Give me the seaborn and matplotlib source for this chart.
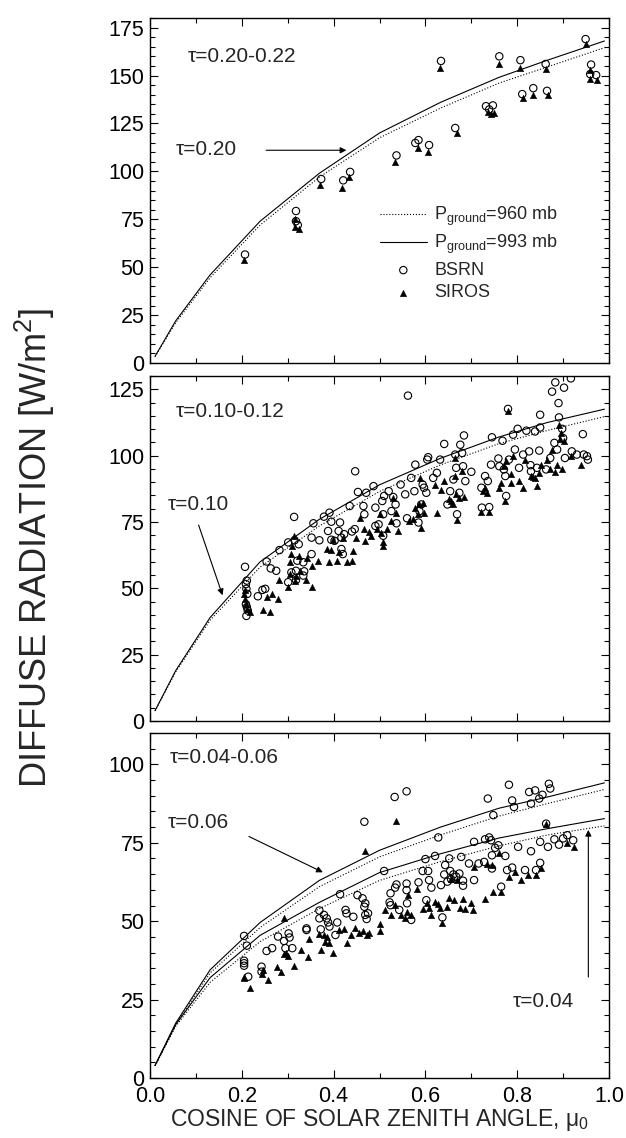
import numpy as np
import pandas as pd
import matplotlib
matplotlib.use("Agg")
import matplotlib.pyplot as plt
import seaborn as sns

# ---------------- data ----------------
mu_model = [0.011, 0.056, 0.131, 0.240, 0.369, 0.500, 0.633, 0.760, 0.866, 0.990]

# tau = 0.20 (top panel)
top_993 = [3.5, 22.0, 46.0, 74.0, 99.0, 120.0, 136.0, 149.0, 158.0, 168.0]
top_960 = [3.3, 21.0, 44.5, 72.0, 97.0, 117.5, 133.0, 146.0, 154.5, 164.5]
# tau = 0.10 (middle panel)
mid_993 = [3.9, 19.0, 39.0, 60.0, 76.0, 89.0, 99.0, 107.0, 112.5, 117.5]
mid_960 = [3.8, 18.5, 38.0, 58.0, 73.5, 86.5, 96.5, 104.5, 109.5, 114.7]
# tau = 0.06 and 0.04 (bottom panel)
bot06_993 = [4.0, 17.5, 34.5, 49.6, 63.0, 72.6, 80.0, 86.0, 89.6, 94.1]
bot06_960 = [3.9, 17.0, 33.5, 48.0, 61.0, 70.5, 77.5, 83.5, 87.5, 92.0]
bot04_993 = [4.0, 17.0, 32.0, 45.5, 56.0, 65.5, 71.5, 76.5, 79.5, 82.7]
bot04_960 = [3.9, 16.5, 30.5, 43.5, 54.0, 63.0, 69.0, 74.0, 77.5, 80.4]

# top panel observations
top_bsrn_x = [0.207, 0.318, 0.318, 0.322, 0.373, 0.421, 0.436, 0.537, 0.578, 0.585, 0.608, 0.634, 0.665,
              0.732, 0.739, 0.747, 0.761, 0.807, 0.811, 0.835, 0.862, 0.865, 0.949, 0.961, 0.959, 0.972]
top_bsrn_y = [56.6, 79.3, 74.0, 72.0, 96.0, 95.3, 99.7, 108.3, 114.8, 116.3, 113.7, 157.6, 122.6,
              134.0, 132.3, 134.4, 160.0, 158.0, 140.3, 143.4, 156.0, 142.0, 169.0, 155.7, 150.7, 150.2]
top_siros_x = [0.205, 0.316, 0.315, 0.324, 0.370, 0.419, 0.434, 0.534, 0.583, 0.606, 0.632, 0.669, 0.736,
               0.743, 0.750, 0.760, 0.806, 0.813, 0.835, 0.862, 0.867, 0.949, 0.959, 0.959, 0.973]
top_siros_y = [54.0, 75.0, 71.0, 70.0, 93.0, 91.5, 97.0, 104.7, 112.0, 110.0, 154.0, 120.0, 131.0,
               130.0, 130.5, 156.0, 154.0, 138.4, 140.0, 153.3, 139.8, 166.3, 153.0, 148.0, 147.6]

# middle panel observations
mid_bsrn_x = [0.207, 0.211, 0.209, 0.210, 0.212, 0.209, 0.211, 0.210, 0.213, 0.235,
              0.245, 0.251, 0.254, 0.263, 0.275, 0.282, 0.301, 0.314, 0.315, 0.318,
              0.321, 0.324, 0.301, 0.308, 0.318, 0.334, 0.336, 0.334, 0.352, 0.352,
              0.356, 0.369, 0.379, 0.388, 0.391, 0.395, 0.395, 0.402, 0.411, 0.414,
              0.417, 0.417, 0.420, 0.423, 0.435, 0.440, 0.446, 0.447, 0.453, 0.465,
              0.467, 0.471, 0.487, 0.491, 0.491, 0.498, 0.506, 0.508, 0.508, 0.510,
              0.520, 0.526, 0.530, 0.535, 0.537, 0.546, 0.556, 0.562, 0.560, 0.569,
              0.576, 0.578, 0.585, 0.587, 0.591, 0.594, 0.597, 0.602, 0.606, 0.604,
              0.617, 0.625, 0.632, 0.641, 0.648, 0.654, 0.661, 0.665, 0.667, 0.669,
              0.674, 0.676, 0.680, 0.684, 0.682, 0.687, 0.700, 0.722, 0.723, 0.730,
              0.736, 0.739, 0.743, 0.745, 0.759, 0.761, 0.768, 0.771, 0.774, 0.776,
              0.780, 0.782, 0.791, 0.795, 0.801, 0.804, 0.813, 0.820, 0.826, 0.829,
              0.830, 0.839, 0.843, 0.848, 0.850, 0.850, 0.863, 0.872, 0.876, 0.881,
              0.883, 0.887, 0.890, 0.891, 0.898, 0.902, 0.900, 0.904, 0.917, 0.919,
              0.930, 0.943, 0.945, 0.952, 0.954]
mid_bsrn_y = [58.1, 52.9, 51.6, 49.8, 47.9, 44.0, 42.9, 39.6, 41.6, 47.0,
              49.4, 49.8, 60.1, 57.5, 56.6, 64.4, 67.3, 76.9, 68.1, 56.6,
              60.4, 66.6, 52.3, 56.0, 53.1, 59.8, 56.4, 54.8, 62.9, 69.1,
              74.5, 68.1, 77.0, 71.6, 78.5, 75.1, 68.3, 67.9, 71.6, 74.8,
              69.1, 64.8, 62.9, 70.4, 81.0, 71.4, 72.3, 94.1, 86.3, 81.0,
              77.9, 86.0, 88.5, 80.4, 73.5, 74.1, 82.9, 77.9, 69.8, 84.8,
              86.6, 79.1, 84.4, 81.6, 74.5, 89.1, 85.4, 122.6, 76.4, 91.6,
              86.6, 96.6, 74.8, 79.1, 81.6, 89.1, 87.9, 86.0, 99.4, 98.5,
              91.6, 93.5, 98.5, 104.4, 81.6, 86.6, 91.0, 100.4, 95.4, 77.9,
              86.0, 104.1, 101.0, 107.6, 96.0, 90.4, 93.9, 87.9, 80.4, 92.3,
              90.4, 80.6, 96.6, 106.9, 98.9, 96.0, 105.6, 94.8, 92.3, 84.8,
              117.6, 98.5, 107.9, 102.3, 110.1, 95.4, 100.4, 109.4, 101.6, 96.4,
              94.1, 109.1, 95.4, 101.9, 110.6, 115.4, 94.8, 99.1, 124.1, 104.8,
              127.6, 102.3, 119.8, 114.4, 110.1, 125.6, 106.6, 99.1, 129.1, 101.6,
              100.4, 108.1, 100.4, 99.8, 98.5]
mid_siros_x = [0.207, 0.205, 0.208, 0.210, 0.212, 0.217, 0.247, 0.262, 0.254, 0.266,
               0.279, 0.280, 0.301, 0.304, 0.306, 0.308, 0.310, 0.313, 0.315, 0.318,
               0.324, 0.327, 0.339, 0.343, 0.352, 0.354, 0.365, 0.385, 0.391, 0.395,
               0.399, 0.408, 0.412, 0.421, 0.430, 0.439, 0.442, 0.449, 0.458, 0.467,
               0.469, 0.478, 0.482, 0.495, 0.500, 0.504, 0.507, 0.507, 0.517, 0.526,
               0.530, 0.536, 0.540, 0.565, 0.574, 0.578, 0.584, 0.585, 0.588, 0.591,
               0.595, 0.597, 0.626, 0.620, 0.634, 0.641, 0.652, 0.656, 0.661, 0.664,
               0.665, 0.667, 0.669, 0.674, 0.680, 0.684, 0.722, 0.726, 0.730, 0.734,
               0.739, 0.761, 0.765, 0.771, 0.774, 0.776, 0.780, 0.786, 0.787, 0.791,
               0.804, 0.813, 0.817, 0.829, 0.835, 0.839, 0.843, 0.848, 0.852, 0.865,
               0.872, 0.876, 0.883, 0.887, 0.890, 0.893, 0.896, 0.898, 0.902, 0.917, 0.939]
mid_siros_y = [49.4, 47.9, 46.0, 44.1, 42.3, 41.0, 41.9, 41.0, 46.9, 47.9,
               46.0, 53.1, 50.4, 59.8, 55.4, 62.9, 66.0, 69.8, 52.9, 54.8,
               62.3, 56.6, 53.1, 61.6, 50.6, 58.5, 60.4, 64.8, 60.1, 64.4,
               68.1, 60.4, 63.5, 69.1, 60.1, 60.4, 63.9, 69.1, 76.6, 72.3,
               67.9, 71.3, 69.8, 72.3, 77.9, 71.0, 67.3, 66.0, 72.3, 75.4,
               84.1, 78.5, 71.6, 75.4, 76.0, 80.4, 77.9, 81.6, 91.6, 72.9,
               82.3, 78.5, 78.5, 89.1, 86.9, 90.6, 83.5, 82.9, 81.6, 99.1,
               92.3, 85.4, 75.6, 84.1, 94.1, 84.4, 78.9, 86.6, 87.9, 86.0,
               78.9, 87.9, 89.8, 96.0, 82.9, 97.9, 116.9, 89.8, 92.9, 99.8,
               90.6, 87.9, 98.5, 92.3, 91.9, 91.6, 88.5, 93.5, 96.6, 98.5,
               94.8, 102.3, 93.9, 96.6, 111.6, 106.4, 108.5, 94.8, 105.4, 99.8, 96.6]

# bottom panel observations
bot_bsrn_x = [0.205, 0.211, 0.205, 0.205, 0.205, 0.214, 0.243, 0.243, 0.254, 0.266,
              0.279, 0.292, 0.295, 0.302, 0.304, 0.310, 0.341, 0.341, 0.369, 0.369,
              0.372, 0.379, 0.385, 0.388, 0.391, 0.404, 0.408, 0.414, 0.426, 0.428,
              0.443, 0.452, 0.463, 0.467, 0.469, 0.469, 0.472, 0.467, 0.475, 0.510,
              0.522, 0.524, 0.524, 0.533, 0.534, 0.537, 0.543, 0.559, 0.559, 0.559,
              0.560, 0.569, 0.585, 0.594, 0.600, 0.602, 0.606, 0.608, 0.613, 0.621,
              0.628, 0.634, 0.637, 0.641, 0.643, 0.648, 0.652, 0.654, 0.656, 0.661,
              0.667, 0.674, 0.678, 0.682, 0.682, 0.695, 0.706, 0.706, 0.716, 0.728,
              0.730, 0.736, 0.739, 0.743, 0.745, 0.745, 0.748, 0.752, 0.759, 0.765,
              0.774, 0.778, 0.782, 0.789, 0.789, 0.793, 0.802, 0.817, 0.826, 0.830,
              0.830, 0.839, 0.841, 0.848, 0.850, 0.850, 0.855, 0.863, 0.867, 0.869,
              0.872, 0.881, 0.891, 0.900, 0.909, 0.922]
bot_bsrn_y = [45.3, 42.2, 37.4, 36.6, 35.8, 32.3, 35.5, 33.9, 40.5, 41.4,
              45.1, 43.7, 41.4, 46.1, 44.8, 41.4, 47.7, 47.2, 53.4, 50.9,
              47.4, 52.0, 50.9, 49.6, 48.3, 45.6, 49.6, 58.6, 53.6, 52.5,
              51.4, 58.3, 57.3, 54.6, 55.7, 52.0, 50.7, 81.7, 52.5, 66.0,
              56.0, 55.1, 58.9, 89.6, 60.7, 61.7, 53.6, 91.4, 62.0, 59.9,
              55.7, 50.4, 62.4, 66.0, 69.8, 56.7, 66.0, 63.1, 60.7, 70.8,
              76.7, 61.5, 51.2, 64.9, 67.9, 62.6, 70.0, 66.0, 63.4, 64.9,
              64.2, 65.2, 70.5, 62.9, 61.3, 68.4, 75.3, 63.1, 68.4, 68.9,
              76.1, 89.1, 76.7, 75.8, 71.0, 66.8, 83.8, 73.4, 74.2, 61.0,
              70.8, 66.3, 93.5, 67.1, 88.5, 86.4, 73.7, 66.3, 91.2, 87.5,
              72.3, 91.7, 66.3, 89.1, 75.3, 68.6, 90.3, 81.1, 73.7, 93.8,
              92.3, 76.1, 74.4, 76.4, 77.4, 75.8]
bot_siros_x = [0.205, 0.204, 0.218, 0.243, 0.247, 0.258, 0.277, 0.285, 0.292, 0.292,
               0.296, 0.301, 0.313, 0.330, 0.345, 0.347, 0.369, 0.372, 0.378, 0.382,
               0.386, 0.391, 0.399, 0.411, 0.423, 0.430, 0.437, 0.447, 0.456, 0.465,
               0.469, 0.472, 0.478, 0.501, 0.501, 0.513, 0.526, 0.533, 0.537, 0.547,
               0.556, 0.560, 0.562, 0.569, 0.582, 0.595, 0.604, 0.608, 0.613, 0.621,
               0.628, 0.632, 0.637, 0.646, 0.652, 0.656, 0.663, 0.669, 0.675, 0.681,
               0.687, 0.700, 0.704, 0.706, 0.730, 0.735, 0.745, 0.748, 0.761, 0.765,
               0.782, 0.795, 0.809, 0.823, 0.841, 0.852, 0.863, 0.909, 0.924]
bot_siros_y = [32.1, 31.8, 28.6, 33.1, 34.5, 31.3, 35.5, 33.7, 51.1, 39.4,
               39.8, 39.0, 35.8, 40.8, 38.5, 44.3, 45.8, 40.8, 45.6, 43.5,
               44.8, 42.9, 39.8, 47.2, 47.4, 42.9, 45.6, 47.9, 46.1, 46.9,
               72.3, 45.6, 46.1, 49.0, 46.9, 53.6, 52.0, 55.1, 82.0, 52.0,
               50.9, 52.8, 58.3, 52.0, 60.4, 53.9, 55.7, 54.1, 52.0, 56.2,
               55.4, 54.1, 49.3, 54.6, 57.3, 63.4, 56.7, 63.1, 54.3, 57.1,
               53.9, 55.7, 53.6, 67.3, 57.1, 68.1, 67.9, 59.2, 71.6, 59.2,
               64.2, 65.7, 63.1, 64.7, 64.7, 66.8, 81.1, 74.8, 73.7]

x_ticks = [0.0, 0.2, 0.4, 0.6, 0.8, 1.0]
x_ticklabels = ["0.0", "0.2", "0.4", "0.6", "0.8", "1.0"]

# ---------------- style ----------------
sns.set_theme(style="ticks")
plt.rcParams["font.family"] = ["Liberation Sans", "DejaVu Sans"]
plt.rcParams["mathtext.fontset"] = "custom"
plt.rcParams["mathtext.rm"] = "Liberation Sans"
plt.rcParams["mathtext.it"] = "Liberation Sans:italic"
plt.rcParams["mathtext.bf"] = "Liberation Sans:bold"
plt.rcParams["axes.linewidth"] = 1.0
plt.rcParams["axes.edgecolor"] = "black"

fig = plt.figure(figsize=(6.26, 11.38), dpi=100)
L, W, H = 150 / 626, 459 / 626, 345 / 1138
ax_top = fig.add_axes([L, 1 - 363 / 1138, W, H])
ax_mid = fig.add_axes([L, 1 - 721 / 1138, W, H])
ax_bot = fig.add_axes([L, 1 - 1078 / 1138, W, H])

LW = 0.8


def draw_curve(ax, y, dotted, label=None):
    df = pd.DataFrame({"mu": mu_model, "F": y})
    sns.lineplot(data=df, x="mu", y="F", ax=ax, color="black", lw=LW,
                 linestyle=":" if dotted else "-", estimator=None, sort=False,
                 label=label)


def draw_obs(ax, bx, by, sx, sy, label=True):
    dfb = pd.DataFrame({"mu": bx, "F": by})
    dfs = pd.DataFrame({"mu": sx, "F": sy})
    sns.scatterplot(data=dfb, x="mu", y="F", ax=ax, marker="o", s=28, color="black",
                    linewidth=0.8, label="BSRN" if label else None, zorder=3)
    ax.collections[-1].set_facecolor("none")
    ax.collections[-1].set_edgecolor("black")
    sns.scatterplot(data=dfs, x="mu", y="F", ax=ax, marker="^", s=22, color="black",
                    linewidth=0.3, edgecolor="black",
                    label="SIROS" if label else None, zorder=3)


# top
draw_curve(ax_top, top_960, True, r"P$_{\mathrm{ground}}$=960 mb")
draw_curve(ax_top, top_993, False, r"P$_{\mathrm{ground}}$=993 mb")
draw_obs(ax_top, top_bsrn_x, top_bsrn_y, top_siros_x, top_siros_y, label=True)
# middle
draw_curve(ax_mid, mid_960, True)
draw_curve(ax_mid, mid_993, False)
draw_obs(ax_mid, mid_bsrn_x, mid_bsrn_y, mid_siros_x, mid_siros_y, label=False)
# bottom
draw_curve(ax_bot, bot06_960, True)
draw_curve(ax_bot, bot06_993, False)
draw_curve(ax_bot, bot04_960, True)
draw_curve(ax_bot, bot04_993, False)
draw_obs(ax_bot, bot_bsrn_x, bot_bsrn_y, bot_siros_x, bot_siros_y, label=False)

ylims = [(0, 180), (0, 130), (0, 110)]
yticks = [np.arange(0, 176, 25), np.arange(0, 126, 25), np.arange(0, 101, 25)]
for ax, yl, yt in zip([ax_top, ax_mid, ax_bot], ylims, yticks):
    ax.set_xlim(0, 1)
    ax.set_ylim(*yl)
    ax.set_yticks(yt)
    ax.set_yticks(np.arange(0, yl[1] + 0.1, 5), minor=True)
    ax.set_xticks(x_ticks)
    ax.set_xticks(np.arange(0, 1.01, 0.1), minor=True)
    ax.tick_params(axis="both", which="both", direction="in", top=True, right=True,
                   colors="black", width=0.8)
    ax.tick_params(axis="both", which="major", length=6, labelsize=15.5, pad=4)
    ax.tick_params(axis="x", which="major", pad=6)
    ax.tick_params(axis="both", which="minor", length=3.5)
    ax.set_xlabel("")
    ax.set_ylabel("")
    for sp in ax.spines.values():
        sp.set_visible(True)
        sp.set_color("black")
    if ax is not ax_bot:
        ax.tick_params(axis="x", labelbottom=False)
    leg = ax.get_legend()
    if leg is not None and ax is not ax_top:
        leg.remove()

ax_bot.set_xticklabels(x_ticklabels)
ax_bot.set_xlabel(r"COSINE OF SOLAR ZENITH ANGLE, μ$_0$", fontsize=16.5, labelpad=0)

# legend (top panel)
h, l = ax_top.get_legend_handles_labels()
ax_top.legend(h, l, loc="upper left", bbox_to_anchor=(0.485, 0.48), frameon=False,
              fontsize=13, handlelength=2.6, handletextpad=0.4, labelspacing=0.3,
              scatterpoints=1, borderaxespad=0)

# annotations
TFS = 15
ax_top.text(0.082, 160, "τ=0.20-0.22", fontsize=TFS, va="center", ha="left")
ax_top.text(0.056, 111.5, "τ=0.20", fontsize=TFS, va="center", ha="left")
ax_top.annotate("", xy=(0.434, 111), xytext=(0.247, 111),
                arrowprops=dict(arrowstyle="-|>", lw=LW, color="black", mutation_scale=9))

ax_mid.text(0.056, 116.6, "τ=0.10-0.12", fontsize=TFS, va="center", ha="left")
ax_mid.text(0.038, 81.4, "τ=0.10", fontsize=TFS, va="center", ha="left")
ax_mid.annotate("", xy=(0.160, 46.4), xytext=(0.104, 74.8),
                arrowprops=dict(arrowstyle="-|>", lw=LW, color="black", mutation_scale=9))

ax_bot.text(0.043, 102.3, "τ=0.04-0.06", fontsize=TFS, va="center", ha="left")
ax_bot.text(0.038, 81.4, "τ=0.06", fontsize=TFS, va="center", ha="left")
ax_bot.annotate("", xy=(0.382, 65.2), xytext=(0.210, 77.4),
                arrowprops=dict(arrowstyle="-|>", lw=LW, color="black", mutation_scale=9))
ax_bot.text(0.791, 24.4, "τ=0.04", fontsize=TFS, va="center", ha="left")
ax_bot.annotate("", xy=(0.955, 80.0), xytext=(0.955, 31.3),
                arrowprops=dict(arrowstyle="-|>", lw=LW, color="black", mutation_scale=9))

fig.text(0.056, 1 - 548 / 1138, "DIFFUSE RADIATION [W/m$^2$]", rotation=90,
         fontsize=26, ha="center", va="center")

fig.savefig("out.png", dpi=100, facecolor="white")
